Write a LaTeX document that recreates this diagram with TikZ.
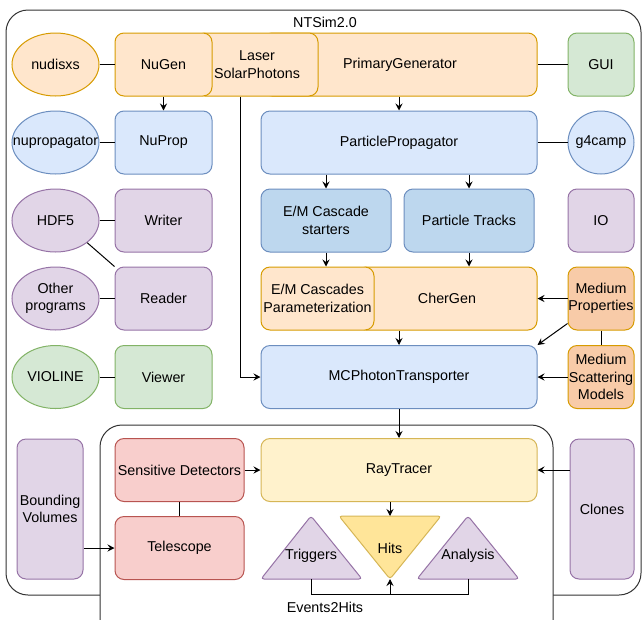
\documentclass[tikz,border=0pt]{standalone}
\usepackage{fontspec}
\setmainfont{Liberation Sans}
\usepackage{tikz}
\usetikzlibrary{arrows.meta, shapes.geometric}

\definecolor{orgFill}{HTML}{FFE6CC}\definecolor{orgLine}{HTML}{D79B00}
\definecolor{bluFill}{HTML}{DAE8FC}\definecolor{bluLine}{HTML}{6C8EBF}
\definecolor{bluMid}{HTML}{BDD7EE}
\definecolor{prpFill}{HTML}{E1D5E7}\definecolor{prpLine}{HTML}{9673A6}
\definecolor{grnFill}{HTML}{D5E8D4}\definecolor{grnLine}{HTML}{82B366}
\definecolor{redFill}{HTML}{F8CECC}\definecolor{redLine}{HTML}{B85450}
\definecolor{yelFill}{HTML}{FFF2CC}\definecolor{yelLine}{HTML}{D6B656}
\definecolor{hitFill}{HTML}{FFE599}
\definecolor{pchFill}{HTML}{F8CBA8}

\begin{document}
\begin{tikzpicture}[x=1pt, y=-1pt, line width=1pt,
    txt/.style={inner sep=0pt, align=center, font=\fontsize{14.3}{17.5}\selectfont},
    box/.style={txt, draw, rounded corners=9pt, minimum height=63pt},
    oval/.style={txt, draw, ellipse, minimum width=87pt, minimum height=63pt},
    small/.style={minimum width=97pt},
    side/.style={minimum width=66pt},
    wide/.style={minimum width=276pt},
    orng/.style={fill=orgFill, draw=orgLine},
    blu/.style={fill=bluFill, draw=bluLine},
    blu2/.style={fill=bluMid, draw=bluLine},
    prp/.style={fill=prpFill, draw=prpLine},
    grn/.style={fill=grnFill, draw=grnLine},
    rd/.style={fill=redFill, draw=redLine},
    yel/.style={fill=yelFill, draw=yelLine},
    hitc/.style={fill=hitFill, draw=yelLine},
    pch/.style={fill=pchFill, draw=orgLine},
    frm/.style={draw=black!80, rounded corners=22pt},
    arr/.style={-{Stealth[length=7pt, width=7pt, inset=2.5pt]}},
]
  \useasboundingbox (0,0) rectangle (642,619);
  \clip (0,0) rectangle (642,619);

  % outer frame
  \draw[frm] (6,10) rectangle (641,595);
  \node[txt] (ntsim) at (325,22) {NTSim2.0};

  % generators
  \node[oval, orng] (nudisxs) at (55.5,64.5) {nudisxs};
  \node[box, orng, minimum width=274pt] (pg) at (400,64.5) {PrimaryGenerator};
  \node[box, orng, minimum width=122pt] (laser) at (257,64.5) {Laser\\SolarPhotons};
  \node[box, orng, small] (nugen) at (163.5,64.5) {NuGen};
  \node[box, grn, side] (gui) at (601,64.5) {GUI};

  % propagation
  \node[oval, blu] (nuprp) at (55.5,142.5) {\makebox[0pt]{nupropagator}};
  \node[box, blu, small] (nuprop) at (163.5,142.5) {NuProp};
  \node[box, blu, wide] (pp) at (399,142.5) {ParticlePropagator};
  \node[oval, blu, minimum width=66pt] (g4camp) at (601,142.5) {\makebox[0pt]{g4camp}};

  % io and particles
  \node[oval, prp] (hdf5) at (55.5,220.5) {HDF5};
  \node[box, prp, small] (writer) at (163.5,220.5) {Writer};
  \node[box, blu2, minimum width=130pt] (starters) at (326,220.5) {E/M Cascade\\starters};
  \node[box, blu2, minimum width=130pt] (tracks) at (469,220.5) {Particle Tracks};
  \node[box, prp, side] (io) at (601,220.5) {IO};

  \node[oval, prp] (others) at (55.5,298.5) {Other\\programs};
  \node[box, prp, small] (reader) at (163.5,298.5) {Reader};
  \node[box, orng, minimum width=180pt] (chergen) at (447,298.5) {CherGen};
  \node[box, orng, minimum width=113pt] (param) at (317.5,298.5) {E/M Cascades\\Parameterization};
  \node[box, pch, side] (medprop) at (601,298.5) {Medium\\Properties};

  \node[oval, grn] (violine) at (55.5,377) {VIOLINE};
  \node[box, grn, small] (viewer) at (163.5,377) {Viewer};
  \node[box, blu, wide] (mcpt) at (399,377) {MCPhotonTransporter};
  \node[box, pch, side] (medscat) at (601,377) {Medium\\Scattering\\Models};

  % Events2Hits frame
  \draw[frm, fill=white] (100,425) rectangle (553,660);
  \node[txt] (e2h) at (325,607) {Events2Hits};
  \node[box, prp, minimum width=66pt, minimum height=140pt] (bv) at (50,509) {Bounding\\Volumes};
  \node[box, rd, minimum width=129pt] (sens) at (179.5,470) {Sensitive Detectors};
  \node[box, rd, minimum width=129pt] (tele) at (179.5,548) {Telescope};
  \node[box, yel, wide] (ray) at (399,470) {RayTracer};
  \node[box, prp, minimum width=64pt, minimum height=140pt] (clones) at (602,509) {Clones};

  \draw[prp, rounded corners=3pt] (261,579) -- (311,516) -- (362,579) -- cycle;
  \draw[hitc, rounded corners=3pt] (339,516) -- (441,516) -- (390,579) -- cycle;
  \draw[prp, rounded corners=3pt] (417,579) -- (468,516) -- (519,579) -- cycle;
  \node[txt] (trig) at (311,556) {Triggers};
  \node[txt] (hits) at (390,548) {Hits};
  \node[txt] (ana) at (468,556) {Analysis};
  \coordinate (trigB) at (311,579);
  \coordinate (anaB) at (468,579);
  \coordinate (hitsB) at (390,579);
  \coordinate (hitsT) at (390,516);
  \coordinate (join) at (390,594);

  % plain links
  \draw (nudisxs.east) -- (nugen.west);
  \draw (pg.east) -- (gui.west);
  \draw (nuprp.east) -- (nuprop.west);
  \draw (pp.east) -- (g4camp.west);
  \draw (hdf5.east) -- (writer.west);
  \draw (hdf5.-35) -- (reader.north west);
  \draw (others.east) -- (reader.west);
  \draw (violine.east) -- (viewer.west);
  \draw (medprop.south) -- (medscat.north);
  \draw (sens.south) -- (tele.north);
  \draw (trigB) |- (join) -| (anaB);

  % data flow
  \draw[arr] (nugen.south) -- (nuprop.north);
  \draw[arr] (pp.north |- pg.south) -- (pp.north);
  \draw[arr] (starters.north |- pp.south) -- (starters.north);
  \draw[arr] (tracks.north |- pp.south) -- (tracks.north);
  \draw[arr] (starters.south) -- (starters.south |- param.north);
  \draw[arr] (tracks.south) -- (tracks.south |- chergen.north);
  \draw[arr] (mcpt.north |- chergen.south) -- (mcpt.north);
  \draw[arr] (medprop.west) -- (chergen.east);
  \draw[arr] (medprop.south west) ++(0,-7) -- (mcpt.north east);
  \draw[arr] (medscat.west) -- (mcpt.east);
  \draw[arr] (laser.south) ++(-17,0) |- (mcpt.west);
  \draw[arr] (mcpt.south) -- (ray.north);
  \draw[arr] (sens.east) -- (ray.west);
  \draw[arr] (clones.west |- ray.east) -- (ray.east);
  \draw[arr] (bv.east |- tele.west) -- (tele.west);
  \draw[arr] (ray.south -| hitsT) -- (hitsT);
  \draw[arr] (join) -- (hitsB);
\end{tikzpicture}
\end{document}
